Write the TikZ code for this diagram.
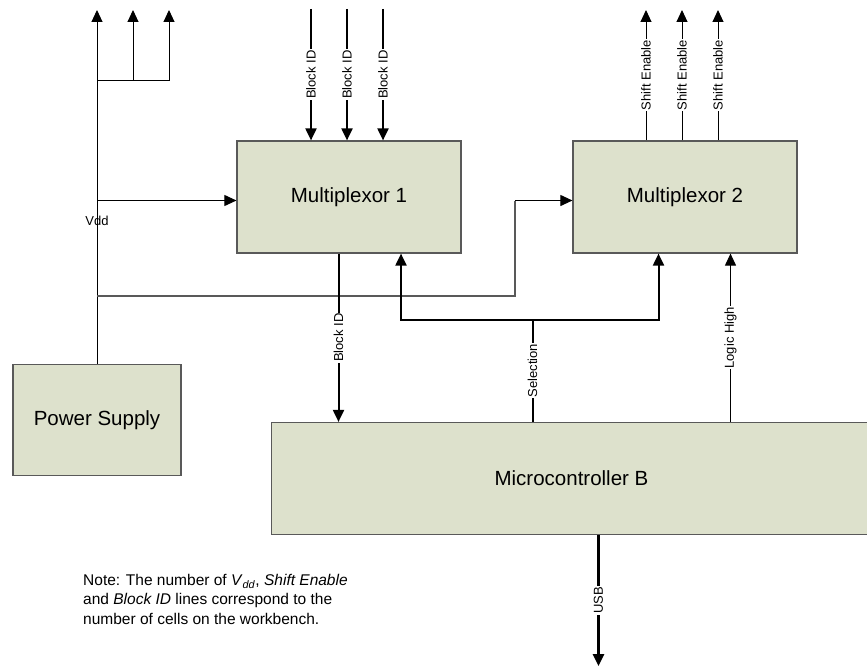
\documentclass[tikz,border=0pt]{standalone}
\usepackage{fontspec}
\setmainfont{Liberation Sans}
\usetikzlibrary{arrows.meta}
\definecolor{boxfill}{RGB}{221,225,204}

\begin{document}
\begin{tikzpicture}[x=1pt, y=-1pt,
    block/.style={
        draw=black!65,
        line width=1.2pt,
        fill=boxfill,
        minimum width=224pt,
        minimum height=112pt,
        font=\fontsize{20.5}{24}\selectfont
    },
    wire/.style={
        line width=1pt,
        -{Triangle[length=12pt,width=11pt]}
    },
    bus/.style={
        wire,
        line width=2pt
    },
    tag/.style={
        fill=white,
        rotate=90,
        inner sep=1pt,
        font=\fontsize{13}{15}\selectfont
    }
]
\useasboundingbox (0,0) rectangle (867,666);

%------------------------------------------------
% Bloques
%------------------------------------------------
\node[block] (mux1) at (349,197) {Multiplexor 1};
\node[block] (mux2) at (685,197) {Multiplexor 2};
\node[block, minimum width=168pt, minimum height=111pt] (psu) at (97,420) {Power Supply};
\node[block, minimum width=600pt] (mcu) at (571.5,478.5) {Microcontroller B};

%------------------------------------------------
% Vdd
%------------------------------------------------
\coordinate (vddtop) at (97,10);
\coordinate (vddfork) at (97,81);
\coordinate (vddmux) at (97,200.5);
\coordinate (vddlow) at (97,296);
\coordinate (bend) at (515,200.5);

\draw[wire] (psu.north) -- (vddtop);
\draw[line width=1pt] (vddfork) -- (169,81);
\foreach \x in {133,169} {
    \coordinate (vdd\x) at (\x,81);
    \draw[wire] (vdd\x) -- (\x,10);
}
\node[font=\fontsize{13}{15}\selectfont] (vdd) at (97,221) {Vdd};

\draw[wire] (vddmux) -- (vddmux -| mux1.west);
\draw[line width=1.2pt, black!65] (vddlow) -| (bend);
\draw[wire] (bend) -- (bend -| mux2.west);

%------------------------------------------------
% Entradas y salidas de los multiplexores
%------------------------------------------------
\foreach \x in {311,347,383} {
    \coordinate (id\x) at (\x,9);
    \draw[bus] (id\x) -- (id\x |- mux1.north) node[tag, midway] {Block ID};
}

\foreach \x in {646,682,718} {
    \coordinate (se\x) at (\x,10);
    \draw[wire] (se\x |- mux2.north) -- (se\x) node[tag, midway] {Shift Enable};
}

\coordinate (idout) at (338.5,0);
\draw[bus] (idout |- mux1.south) -- (idout |- mcu.north) node[tag, midway] {Block ID};

%------------------------------------------------
% Microcontrolador
%------------------------------------------------
\coordinate (selsplit) at (532.5,319.5);
\coordinate (sel1) at (401,319.5);
\coordinate (sel2) at (658.5,319.5);
\draw[line width=2pt] (selsplit |- mcu.north) -- (selsplit) node[tag, midway] {Selection};
\draw[bus] (selsplit) -- (sel1) -- (sel1 |- mux1.south);
\draw[bus] (selsplit) -- (sel2) -- (sel2 |- mux2.south);

\coordinate (hi) at (730.5,0);
\draw[wire] (hi |- mcu.north) -- (hi |- mux2.south) node[tag, midway] {Logic High};

\coordinate (usb) at (598.5,666);
\draw[bus, line width=2.5pt] (usb |- mcu.south) -- (usb) node[tag, midway] {USB};

% nota
\node[anchor=north west, align=left, inner sep=0pt,
      font=\fontsize{15.5}{19.3}\selectfont] (note) at (83,574)
    {Note: The number of \textit{V}\textsubscript{\textit{dd}}, \textit{Shift Enable}\\
     and \textit{Block ID} lines correspond to the\\
     number of cells on the workbench.};

\end{tikzpicture}
\end{document}
